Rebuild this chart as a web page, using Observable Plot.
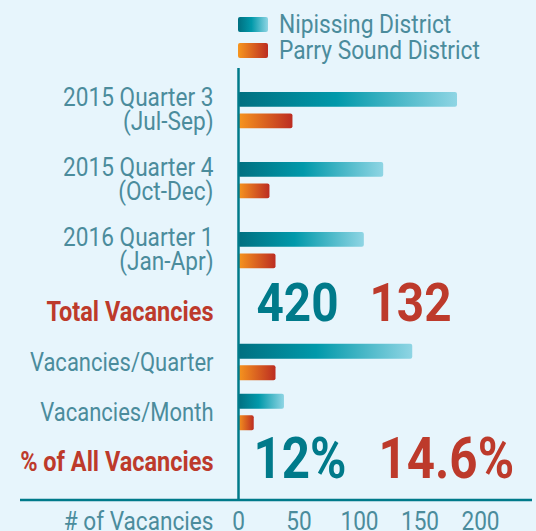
<!DOCTYPE html>
<html><head><meta charset="utf-8">
<script src="https://cdn.jsdelivr.net/npm/d3@7"></script>
<script src="https://cdn.jsdelivr.net/npm/@observablehq/plot@0.6"></script>
<style>
html,body{margin:0;padding:0;background:#e7f5fc;width:536px;height:531px;overflow:hidden;font-family:Roboto,"Liberation Sans",Arial,sans-serif;}
#legend{position:relative;height:65px;width:536px;}
.sw{position:absolute;left:238px;width:30px;height:15px;border-radius:2px;}
.lt{position:absolute;left:279px;font-size:25px;line-height:25px;color:#4b8c9c;transform:scaleX(0.91);transform-origin:left center;white-space:nowrap;}
#top,#bottom{display:block;}
#top svg,#bottom svg{display:block;}
</style></head><body>
<div id="legend"></div>
<div id="top"></div>
<div id="bottom"></div>
<script>
// ---- data ----
const series = ["Nipissing District", "Parry Sound District"];
const quarters = ["2015 Quarter 3\n(Jul-Sep)", "2015 Quarter 4\n(Oct-Dec)", "2016 Quarter 1\n(Jan-Apr)"];
const quarterNipissing = [181, 120, 104];
const quarterParry = [45, 26, 31];
const summaryRows = ["Total Vacancies", "Vacancies/Quarter", "Vacancies/Month", "% of All Vacancies"];
const highlighted = ["Total Vacancies", "% of All Vacancies"];
const rateRows = ["Vacancies/Quarter", "Vacancies/Month"];
const rateNipissing = [144, 38];
const rateParry = [31, 13];
const totals = ["420", "132"];
const shares = ["12%", "14.6%"];
const xTicks = [0, 50, 100, 150, 200];
const xDomain = [0, 200];
const xLabel = "# of Vacancies";

// ---- styles ----
const teal = "#007a8a", red = "#bd3a2b", grey = "#4b8c9c";
const FONT = 'Roboto, "Liberation Sans", Arial, sans-serif';
const W = 536, mL = 238, mR = 56;
const barH = 15.5, off = 10.75;

// legend
const leg = document.getElementById("legend");
const grads = ["linear-gradient(to right,#006f80,#0199aa 45%,#8fd5e4)", "linear-gradient(to right,#f7961e,#bc2d22)"];
series.forEach((s, i) => {
  const sw = document.createElement("div");
  sw.className = "sw"; sw.style.top = (17 + i * 26) + "px"; sw.style.background = grads[i];
  const t = document.createElement("div");
  t.className = "lt"; t.style.top = (12 + i * 26) + "px"; t.textContent = s;
  leg.append(sw, t);
});

const defs = () => {
  const d = d3.create("svg:defs");
  const g1 = d.append("linearGradient").attr("id", "gradN");
  [["0%", "#006f80"], ["45%", "#0199aa"], ["100%", "#8fd5e4"]].forEach(([o, c]) => g1.append("stop").attr("offset", o).attr("stop-color", c));
  const g2 = d.append("linearGradient").attr("id", "gradP");
  [["0%", "#f7961e"], ["100%", "#bc2d22"]].forEach(([o, c]) => g2.append("stop").attr("offset", o).attr("stop-color", c));
  return d.node();
};
const bottomLine = (index, scales, values, dims) => {
  const y = dims.height - dims.marginBottom;
  return d3.create("svg:line").attr("x1", 20).attr("x2", dims.width - 4).attr("y1", y).attr("y2", y)
    .attr("stroke", teal).attr("stroke-width", 2.5).node();
};
function barMarks(cats, nVals, pVals, bw) {
  const rows = cats.map((c, i) => ({cat: c, n: nVals[i], p: pVals[i]}));
  const inset = (bw - barH) / 2;
  return [
    Plot.barX(rows, {x: "n", y: "cat", fill: "url(#gradN)", insetTop: inset, insetBottom: inset, dy: -off, rx: 2}),
    Plot.barX(rows, {x: "p", y: "cat", fill: "url(#gradP)", insetTop: inset, insetBottom: inset, dy: off, rx: 2})
  ];
}
const labelOpts = {y: d => d, frameAnchor: "left", textAnchor: "end", dx: -25, fill: grey, fontSize: 26};

// ---- upper chart: quarters ----
const topH = 215, topStep = 70.75, topStart = 9.1;
const topPlot = Plot.plot({
  width: W, height: topH, marginTop: 3, marginBottom: 0, marginLeft: mL, marginRight: mR,
  style: {fontFamily: FONT, fontSize: "26px", background: "transparent", color: grey, overflow: "visible"},
  x: {domain: xDomain, axis: null},
  y: {type: "band", domain: quarters, padding: 0, range: [topStart, topStart + topStep * quarters.length], axis: null},
  marks: [
    defs,
    ...barMarks(quarters, quarterNipissing, quarterParry, topStep),
    Plot.ruleX([0], {stroke: teal, strokeWidth: 2.5}),
    Plot.text(quarters, {...labelOpts, lineHeight: 0.93})
  ]
});
document.getElementById("top").append(topPlot);

// ---- lower chart: summary ----
const botH = 251, botStep = 50.4, botStart = 6.2;
const botPlot = Plot.plot({
  width: W, height: botH, marginTop: 0, marginBottom: 31, marginLeft: mL, marginRight: mR,
  style: {fontFamily: FONT, fontSize: "26px", background: "transparent", color: grey, overflow: "visible"},
  x: {domain: xDomain, label: null},
  y: {type: "band", domain: summaryRows, padding: 0, range: [botStart, botStart + botStep * summaryRows.length], axis: null},
  marks: [
    ...barMarks(rateRows, rateNipissing, rateParry, botStep),
    Plot.ruleX([0], {stroke: teal, strokeWidth: 2.5}),
    bottomLine,
    Plot.axisX(xTicks, {tickSize: 0, tickPadding: 11, fontSize: 26, fill: grey, label: null}),
    Plot.text([xLabel], {frameAnchor: "bottom-left", textAnchor: "end", lineAnchor: "top", dx: -25, dy: 11, fontSize: 26, fill: grey}),
    Plot.text(summaryRows.filter(g => !highlighted.includes(g)), {...labelOpts, fontSize: 25}),
    Plot.text(highlighted, {...labelOpts, fill: red, fontSize: 27, fontWeight: "bold"}),
    Plot.text([totals[0]], {y: () => highlighted[0], frameAnchor: "left", textAnchor: "start", dx: 18, dy: -8, fill: teal, fontSize: 53, fontWeight: "bold"}),
    Plot.text([totals[1]], {y: () => highlighted[0], frameAnchor: "left", textAnchor: "start", dx: 131, dy: -8, fill: red, fontSize: 53, fontWeight: "bold"}),
    Plot.text([shares[0]], {y: () => highlighted[1], frameAnchor: "left", textAnchor: "start", dx: 15, dy: -3, fill: teal, fontSize: 58, fontWeight: "bold"}),
    Plot.text([shares[1]], {y: () => highlighted[1], frameAnchor: "left", textAnchor: "start", dx: 140, dy: -3, fill: red, fontSize: 58, fontWeight: "bold"})
  ]
});
document.getElementById("bottom").append(botPlot);

// condensed type (the original uses a condensed face)
const squeeze = {25: 0.88, 26: 0.87, 27: 0.87, 53: 0.9, 58: 0.85};
[topPlot, botPlot].forEach(svg => svg.querySelectorAll("text").forEach(t => {
  const size = Math.round(parseFloat(getComputedStyle(t).fontSize));
  const f = squeeze[size] || 0.87;
  const parts = t.querySelectorAll("tspan");
  const els = parts.length ? [...parts] : [t];
  els.forEach(e => {
    const w = e.getComputedTextLength();
    if (w > 0) { e.setAttribute("textLength", w * f); e.setAttribute("lengthAdjust", "spacingAndGlyphs"); }
  });
}));
</script>
</body></html>
